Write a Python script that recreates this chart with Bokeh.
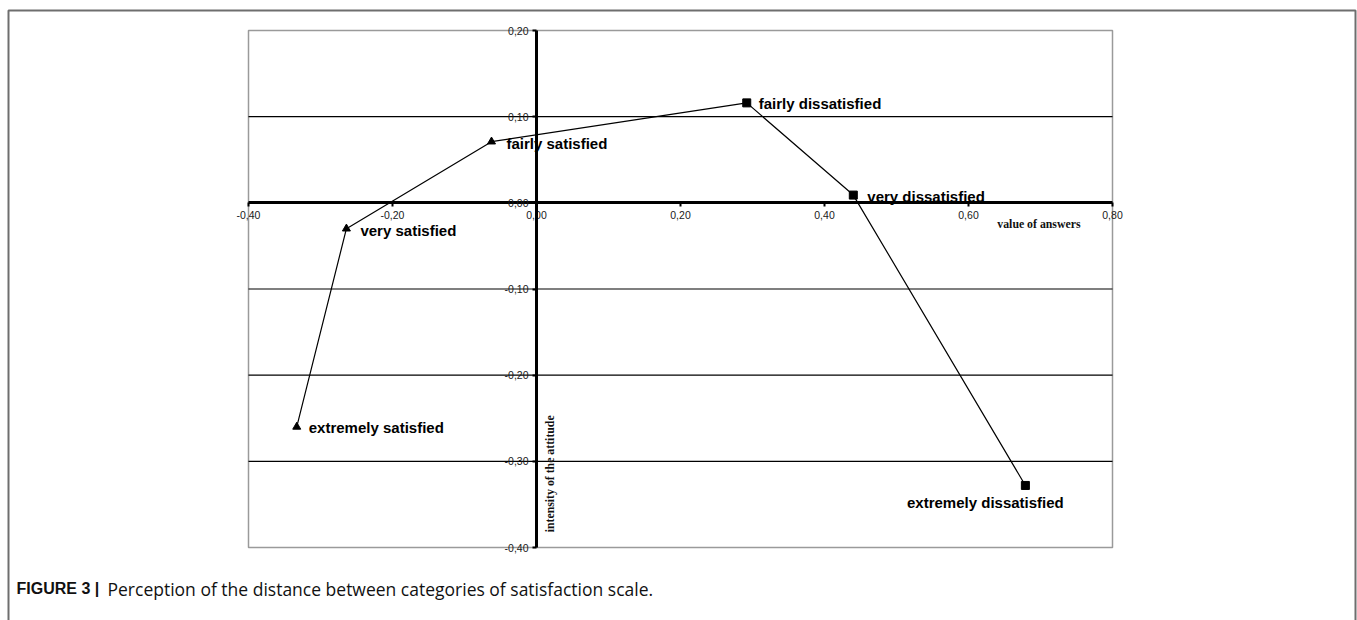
import math
from bokeh.plotting import figure
from bokeh.models import (FixedTicker, CustomJSTickFormatter, Label, BoxAnnotation,
                          ColumnDataSource, Range1d)
from bokeh.core.properties import value
from bokeh.embed import file_html
from bokeh.resources import INLINE

# ---------------- data ----------------
categories = ["extremely satisfied", "very satisfied", "fairly satisfied",
              "fairly dissatisfied", "very dissatisfied", "extremely dissatisfied"]
answer_values = [-0.333, -0.264, -0.0625, 0.292, 0.44, 0.679]
attitude_intensity = [-0.26, -0.03, 0.071, 0.116, 0.009, -0.328]
marker_kind = ["triangle", "triangle", "triangle", "square", "square", "square"]

x_ticks = [-0.4, -0.2, 0.0, 0.2, 0.4, 0.6, 0.8]
x_tick_labels = ["-0,40", "-0,20", "0,00", "0,20", "0,40", "0,60", "0,80"]
y_ticks = [0.2, 0.1, 0.0, -0.1, -0.2, -0.3, -0.4]
y_tick_labels = ["0,20", "0,10", "0,00", "-0,10", "-0,20", "-0,30", "-0,40"]
grid_values = [0.1, -0.1, -0.2, -0.3]

x_title = "value of answers"
y_title = "intensity of the attitude"
caption_bold = "FIGURE 3 |"
caption_text = "Perception of the distance between categories of satisfaction scale."

# ---------------- styles / layout ----------------
label_dx = [12, 14, 15, 12, 14, -40]
label_dy = [1, 2, 2, 1, 1, 17]
label_align = ["left", "left", "left", "left", "left", "center"]

W, H = 1357, 620
# plot area in pixels: left 248, right 1112, top 30, bottom 547
X0, X1 = min(x_ticks), max(x_ticks)
Y0, Y1 = min(y_ticks), max(y_ticks)
sx = (1112 - 248) / (X1 - X0)
sy = (547 - 30) / (Y1 - Y0)
x_range = Range1d(X0 - 248 / sx, X1 + (W - 1112) / sx)
y_range = Range1d(Y0 - (H - 547) / sy, Y1 + 30 / sy)

p = figure(width=W, height=H, output_backend="svg", toolbar_location=None,
           x_range=x_range, y_range=y_range,
           min_border=0, min_border_left=0, min_border_right=0,
           min_border_top=0, min_border_bottom=0)
p.background_fill_color = "white"
p.border_fill_color = "white"
p.outline_line_color = None
p.xgrid.grid_line_color = None
p.ygrid.grid_line_color = None

fmt_code = """
const i = tv.findIndex(t => Math.abs(t - tick) < 1e-9);
return i >= 0 ? tl[i] : '';
"""
xa = p.xaxis[0]
xa.fixed_location = 0
xa.bounds = (X0, X1)
xa.ticker = FixedTicker(ticks=x_ticks)
xa.formatter = CustomJSTickFormatter(args=dict(tv=x_ticks, tl=x_tick_labels), code=fmt_code)
ya = p.yaxis[0]
ya.fixed_location = 0
ya.bounds = (Y0, Y1)
ya.ticker = FixedTicker(ticks=y_ticks)
ya.formatter = CustomJSTickFormatter(args=dict(tv=y_ticks, tl=y_tick_labels), code=fmt_code)
for ax in (xa, ya):
    ax.axis_line_width = 3
    ax.axis_line_color = "black"
    ax.major_tick_line_color = "black"
    ax.major_tick_line_width = 2
    ax.major_tick_out = 4
    ax.major_tick_in = 0
    ax.minor_tick_line_color = None
    ax.major_label_text_font = "Liberation Sans"
    ax.major_label_text_font_size = "10.5px"
    ax.major_label_text_color = "#1a1a1a"
    ax.major_label_standoff = 4

# plot-area frame and horizontal grid lines
p.quad(left=X0, right=X1, top=Y1, bottom=Y0, fill_color=None,
       line_color="#9a9a9a", line_width=1.5)
p.segment(x0=[X0] * len(grid_values), x1=[X1] * len(grid_values),
          y0=grid_values, y1=grid_values, line_color="black", line_width=1.2)

src = ColumnDataSource(dict(x=answer_values, y=attitude_intensity, m=marker_kind,
                            name=categories, dx=label_dx, dy=label_dy, al=label_align))
p.line(answer_values, attitude_intensity, line_color="black", line_width=1.2, level="overlay")
p.scatter("x", "y", source=src, marker="m", size=8, fill_color="black", line_color="black",
          level="overlay")
p.text("x", "y", text="name", source=src, x_offset="dx", y_offset="dy", text_align="al",
       text_baseline="middle", text_font=value("Liberation Sans"), text_font_style="bold",
       text_font_size="15px", text_color="black", level="overlay")

p.add_layout(Label(x=0.7556, y=-0.0244, text=x_title, text_align="right", text_baseline="middle",
                   text_font="Liberation Serif", text_font_style="bold", text_font_size="11.8px",
                   text_color="#111111"))
p.add_layout(Label(x=0.019, y=-0.3145, text=y_title, angle=math.pi / 2, text_align="center",
                   text_baseline="middle", text_font="Liberation Serif", text_font_style="bold",
                   text_font_size="11.8px", text_color="#111111"))

# outer figure frame and caption (screen units: from left / bottom of canvas)
p.add_layout(BoxAnnotation(left=8, right=1355, top=H - 10, bottom=-20,
                           left_units="screen", right_units="screen",
                           top_units="screen", bottom_units="screen",
                           fill_alpha=0, line_color="#6e6e6e", line_alpha=1.0, line_width=2))
p.add_layout(Label(x=16, y=H - 588, x_units="screen", y_units="screen", text=caption_bold,
                   text_baseline="middle", text_font="Liberation Sans", text_font_style="bold",
                   text_font_size="16px", text_color="#111111"))
p.add_layout(Label(x=107, y=H - 588, x_units="screen", y_units="screen", text=caption_text,
                   text_baseline="middle", text_font="Open Sans", text_font_size="17.5px",
                   text_color="#111111"))

open("out.html", "w").write(file_html(p, INLINE))
